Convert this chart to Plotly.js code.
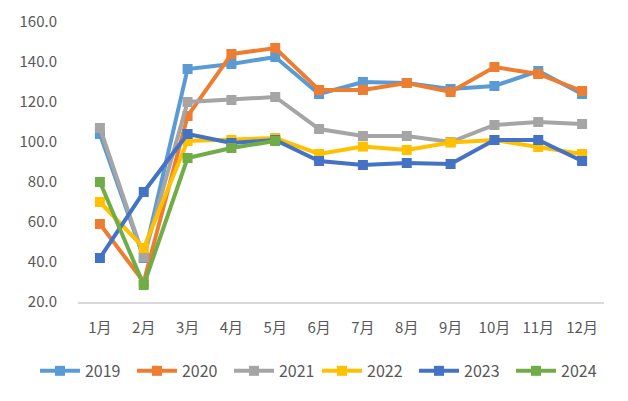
<!DOCTYPE html>
<html>
<head>
<meta charset="utf-8">
<script src="https://cdn.plot.ly/plotly-3.0.1.min.js"></script>
<style>html,body{margin:0;padding:0;background:#fff;}#chart{width:628px;height:401px;}</style>
</head>
<body>
<div id="chart"></div>
<script>
const months = ["1月","2月","3月","4月","5月","6月","7月","8月","9月","10月","11月","12月"];
const years = ["2019","2020","2021","2022","2023","2024"];
const v2019 = [104, 42, 136.5, 139, 142.5, 124, 130, 129.5, 126.5, 128, 135.5, 124];
const v2020 = [59, 30, 113, 144, 147, 126, 126, 129.5, 125, 137.5, 134, 125.5];
const v2021 = [107, 42.5, 120, 121, 122.5, 106.5, 103, 103, 100, 108.5, 110, 109];
const v2022 = [70, 47, 100.5, 101, 102, 94, 97.7, 96, 99.7, 101, 97.5, 94];
const v2023 = [42, 75, 104, 99.5, 101, 90.5, 88.5, 89.5, 89, 101, 101, 90.5];
const v2024 = [80, 28.5, 92, 97, 100.5];
const colors = ["#5B9BD5","#ED7D31","#A5A5A5","#FFC000","#4472C4","#70AD47"];
const series = [v2019, v2020, v2021, v2022, v2023, v2024];

const traces = series.map((vals, i) => ({
  type: "scatter",
  mode: "lines+markers",
  name: years[i],
  legend: i < 3 ? "legend" : "legend2",
  x: months.slice(0, vals.length),
  y: vals,
  line: {color: colors[i], width: 4},
  marker: {symbol: "square", size: 10, color: colors[i]}
}));

const legendBase = {
  orientation: "h", xref: "container", yref: "container", xanchor: "left",
  y: 0.075, yanchor: "middle",
  font: {size: 16, color: "#595959"}, itemwidth: 40, entrywidth: 42, entrywidthmode: "pixels",
  tracegroupgap: 0
};

const layout = {
  width: 628, height: 401,
  margin: {l: 78, r: 24, t: 22, b: 99},
  paper_bgcolor: "#fff", plot_bgcolor: "#fff",
  font: {family: "'Noto Sans CJK SC', 'DejaVu Sans', sans-serif", size: 15, color: "#595959"},
  showlegend: true,
  legend: Object.assign({}, legendBase, {x: 0.0557}),
  legend2: Object.assign({}, legendBase, {x: 0.5048}),
  xaxis: {
    type: "category", categoryorder: "array", categoryarray: months,
    range: [-0.5, 11.5],
    showline: true, linecolor: "#D9D9D9", linewidth: 1.5,
    showgrid: false, zeroline: false, ticks: "", ticklabelstandoff: 11,
    tickfont: {size: 15, color: "#595959"}
  },
  yaxis: {
    range: [20, 160], dtick: 20, tick0: 20, tickformat: ".1f",
    showgrid: false, zeroline: false, showline: false, ticks: "",
    ticklabelstandoff: 20,
    tickfont: {size: 15, color: "#595959"}
  }
};

Plotly.newPlot("chart", traces, layout, {displayModeBar: false, staticPlot: true});
</script>
</body>
</html>
